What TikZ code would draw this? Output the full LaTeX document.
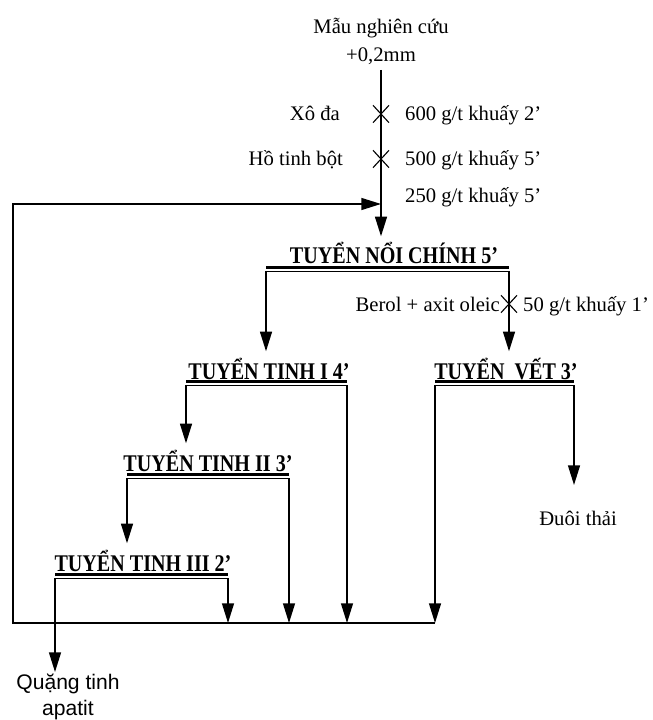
\documentclass[tikz,border=0pt]{standalone}
\usepackage{fontspec}
\setmainfont{Liberation Serif}
\newfontfamily\stagefont[FakeStretch=0.84]{Liberation Serif}
\newfontfamily\outfont{Liberation Sans}
\usetikzlibrary{arrows.meta,positioning,shapes.misc}

\begin{document}
\begin{tikzpicture}[x=0.025cm,y=-0.025cm,line width=1.1pt,
  txt/.style={font=\fontsize{14.7}{20}\selectfont,inner sep=1pt},
  stage/.style={font=\stagefont\bfseries\fontsize{17}{20}\selectfont,inner sep=4pt,anchor=base},
  flow/.style={-{Triangle[length=14pt,width=8.5pt]}},
  dose/.style={cross out,draw,line width=0.8pt,minimum width=10.5pt,minimum height=11.5pt,inner sep=0pt}]
\useasboundingbox (0,0) rectangle (652,720);

% feed and reagents
\node[txt,align=center,anchor=south,inner sep=3pt] (feed) at (381,70) {Mẫu nghiên cứu\\+0,2mm};
\node[dose] (x1) at (381,114) {};
\node[dose] (x2) at (381,159) {};
\node[txt,anchor=base east] (soda) at (342,121) {Xô đa};
\node[txt,anchor=base west] (soda-d) at (403,121) {600 g/t khuấy 2’};
\node[txt,anchor=base east] (starch) at (345,166) {Hồ tinh bột};
\node[txt,anchor=base west] (starch-d) at (403,166) {500 g/t khuấy 5’};
\node[txt,anchor=base west] (dose3) at (403,203) {250 g/t khuấy 5’};

% flotation stages
\node[stage] (main) at (394,264) {TUYỂN NỔI CHÍNH 5’};
\node[stage] (clean1) at (269,379) {TUYỂN TINH I 4’};
\node[stage] (scav) at (506,379) {TUYỂN\ \ VẾT 3’};
\node[stage] (clean2) at (208,471) {TUYỂN TINH II 3’};
\node[stage] (clean3) at (143,571) {TUYỂN TINH III 2’};

% double underlines
\foreach \nm/\a/\b/\u in {main/266/509/269,clean1/186/347/383,scav/435/574/383,clean2/127/289/476,clean3/55/228/576}{
  \draw[line width=1.6pt] (\a,\u-1.5) -- (\b,\u-1.5);
  \draw[line width=0.7pt] (\a,\u+2) -- (\b,\u+2);
  \coordinate (\nm-l) at (\a,\u+2);
  \coordinate (\nm-r) at (\b,\u+2);
}

\node[dose] (x3) at (509,304) {};
\node[txt,anchor=base east] (collector) at (502,311) {Berol + axit oleic};
\node[txt,anchor=base west] (collector-d) at (521,311) {50 g/t khuấy 1’};

% products
\coordinate (tail-in) at (574,485);
\node[txt,anchor=base] (tail) at (578,525) {Đuôi thải};
\node[font=\outfont\fontsize{15}{18}\selectfont,align=center,anchor=north,inner sep=1pt] (conc) at (68,672) {Quặng tinh\\apatit};

% return line
\coordinate (col-l) at (13,623);
\coordinate (col-r) at (435,623);
\coordinate (join) at (381,204);

\draw[flow] (feed.south) -- (feed.south |- main.north);
\draw[flow] (col-r) -- (col-l) |- (join);
\draw[flow] (main-l) -- (main-l |- clean1.north);
\draw[flow] (main-r) -- (main-r |- scav.north);
\draw[flow] (clean1-l) -- (clean1-l |- clean2.north);
\draw[flow] (clean1-r) -- (clean1-r |- col-l);
\draw[flow] (clean2-l) -- (clean2-l |- clean3.north);
\draw[flow] (clean2-r) -- (clean2-r |- col-l);
\draw[flow] (clean3-l) -- (clean3-l |- conc.north);
\draw[flow] (clean3-r) -- (clean3-r |- col-l);
\draw[flow] (scav-l) -- (col-r);
\draw[flow] (scav-r) -- (tail-in);
\end{tikzpicture}
\end{document}
